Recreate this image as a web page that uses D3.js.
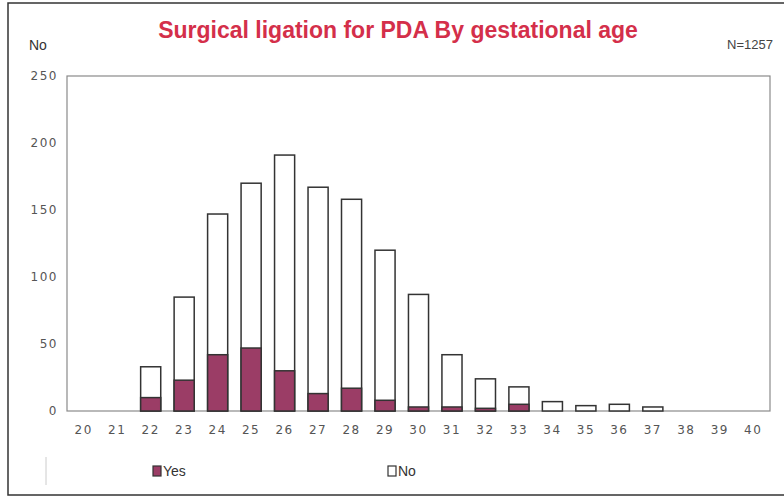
<!DOCTYPE html>
<html>
<head>
<meta charset="utf-8">
<script src="https://cdn.jsdelivr.net/npm/d3@7"></script>
<style>
  body { margin: 0; background: #fff; }
  svg { display: block; }
</style>
</head>
<body>
<div id="chart"></div>
<script>
const ages = [20, 21, 22, 23, 24, 25, 26, 27, 28, 29, 30, 31, 32, 33, 34, 35, 36, 37, 38, 39, 40];
const totals = [0, 0, 33, 85, 147, 170, 191, 167, 158, 120, 87, 42, 24, 18, 7, 4, 5, 3, 0, 0, 0];
const yes = [0, 0, 10, 23, 42, 47, 30, 13, 17, 8, 3, 3, 2, 5, 0, 0, 0, 0, 0, 0, 0];
const yTicks = [0, 50, 100, 150, 200, 250];

const width = 784, height = 497;
const margin = { top: 76, right: 14, bottom: 86, left: 67 };

const svg = d3.select("#chart").append("svg")
  .attr("width", width)
  .attr("height", height);

// outer frame
svg.append("rect")
  .attr("x", 8).attr("y", 3)
  .attr("width", width + 20).attr("height", 492)
  .attr("fill", "none").attr("stroke", "#333").attr("stroke-width", 1.5);

const x = d3.scaleBand()
  .domain(ages)
  .range([margin.left, width - margin.right])
  .paddingInner(0.4)
  .paddingOuter(0.2);

const y = d3.scaleLinear()
  .domain([0, 250])
  .range([height - margin.bottom, margin.top]);

// plot area border
svg.append("rect")
  .attr("x", margin.left).attr("y", margin.top)
  .attr("width", width - margin.right - margin.left)
  .attr("height", height - margin.bottom - margin.top)
  .attr("fill", "none").attr("stroke", "#8a8a8a").attr("stroke-width", 1.2);

// title + side labels
svg.append("text")
  .attr("x", 398).attr("y", 38)
  .attr("text-anchor", "middle")
  .style("font-family", "'Liberation Sans Narrow', 'Liberation Sans', sans-serif")
  .style("font-weight", "bold")
  .style("font-size", "23px")
  .style("fill", "#d42f4a")
  .text("Surgical ligation for PDA By gestational age");

svg.append("text")
  .attr("x", 29).attr("y", 50)
  .style("font-family", "'Liberation Sans Narrow', 'Liberation Sans', sans-serif")
  .style("font-size", "14px").style("fill", "#333")
  .text("No");

svg.append("text")
  .attr("x", 773).attr("y", 49)
  .attr("text-anchor", "end")
  .style("font-family", "'Liberation Sans', sans-serif")
  .style("font-size", "13px").style("fill", "#444")
  .text("N=1257");

// axes (labels only)
const axisFont = sel => sel
  .style("font-family", "'DejaVu Sans', sans-serif")
  .style("font-size", "12px")
  .style("letter-spacing", "1.5px")
  .style("fill", "#555");

const yAxis = svg.append("g")
  .attr("transform", `translate(${margin.left - 9},0)`)
  .call(d3.axisLeft(y).tickValues(yTicks).tickSize(0).tickPadding(0));
yAxis.select(".domain").remove();
yAxis.selectAll("text").call(axisFont);

const xAxis = svg.append("g")
  .attr("transform", `translate(0,${height - margin.bottom + 11})`)
  .call(d3.axisBottom(x).tickSize(0).tickPadding(3));
xAxis.select(".domain").remove();
xAxis.selectAll("text").call(axisFont);

// bars
const rows = ages.map((a, i) => ({ age: a, total: totals[i], yes: yes[i] }));

svg.selectAll(".bar-no")
  .data(rows.filter(d => d.total > 0))
  .enter().append("rect")
  .attr("class", "bar-no")
  .attr("x", d => x(d.age))
  .attr("y", d => y(d.total))
  .attr("width", x.bandwidth())
  .attr("height", d => y(0) - y(d.total))
  .attr("fill", "#fff")
  .attr("stroke", "#333")
  .attr("stroke-width", 1.5);

svg.selectAll(".bar-yes")
  .data(rows.filter(d => d.yes > 0))
  .enter().append("rect")
  .attr("class", "bar-yes")
  .attr("x", d => x(d.age))
  .attr("y", d => y(d.yes))
  .attr("width", x.bandwidth())
  .attr("height", d => y(0) - y(d.yes))
  .attr("fill", "#9b3d66")
  .attr("stroke", "#333")
  .attr("stroke-width", 1.5);

// legend
svg.append("line")
  .attr("x1", 46).attr("x2", 46).attr("y1", 457).attr("y2", 485)
  .attr("stroke", "#ccc");

const legend = [
  { label: "Yes", fill: "#9b3d66", x: 153 },
  { label: "No", fill: "#fff", x: 388 }
];

const lg = svg.selectAll(".legend-item")
  .data(legend)
  .enter().append("g")
  .attr("class", "legend-item")
  .attr("transform", d => `translate(${d.x},466)`);

lg.append("rect")
  .attr("width", 8).attr("height", 10)
  .attr("fill", d => d.fill)
  .attr("stroke", "#333").attr("stroke-width", 1.2);

lg.append("text")
  .attr("x", 10).attr("y", 10)
  .style("font-family", "'Liberation Sans Narrow', 'Liberation Sans', sans-serif")
  .style("font-size", "14px").style("fill", "#333")
  .text(d => d.label);
</script>
</body>
</html>
